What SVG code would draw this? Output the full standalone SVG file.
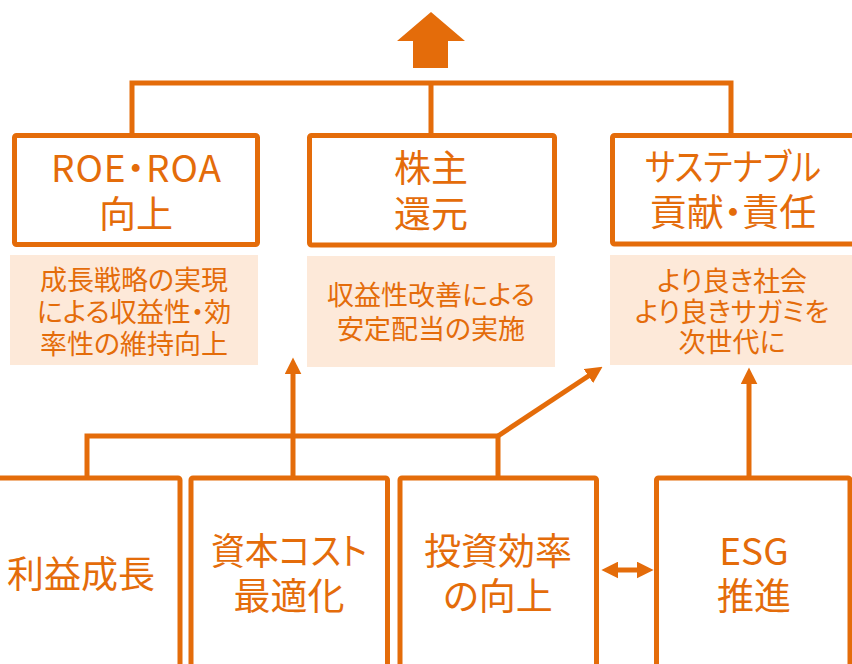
<svg xmlns="http://www.w3.org/2000/svg" width="852" height="664" viewBox="0 0 852 664">
<style>
.box{fill:#FFFFFF;stroke:#E46C0A;stroke-width:5}
.note{fill:#FDE9D9}
.conn{fill:none;stroke:#E46C0A;stroke-width:5}
text{font-family:"Noto Sans CJK JP","Noto Sans",sans-serif;fill:#E46C0A;text-anchor:middle;font-feature-settings:"palt" 1}
.t1{font-size:37px}
.t2{font-size:27px}
.t3{font-size:37px}
</style>
<defs>
<marker id="ah" markerUnits="userSpaceOnUse" markerWidth="17" markerHeight="17" viewBox="0 0 16 16" refX="6" refY="8" orient="auto-start-reverse">
<path d="M0,0 L16,8 L0,16 z" fill="#E46C0A"/>
</marker>
</defs>
<rect width="852" height="664" fill="#FFFFFF"/>
<g id="connectors">
<polygon points="431,12 465,41 448,41 448,68 413,68 413,41 397,41" fill="#E46C0A"/>
<path class="conn" d="M132,135 V83 H731 V135 M431,83 V135"/>
<path class="conn" d="M87,477 V436 H498 V477"/>
<path class="conn" d="M498,436 L593.7,372.5" marker-end="url(#ah)"/>
<path class="conn" d="M293,477 V368" marker-end="url(#ah)"/>
<path class="conn" d="M749,477 V378" marker-end="url(#ah)"/>
<path class="conn" d="M612,570 H643" marker-start="url(#ah)" marker-end="url(#ah)"/>
</g>
<g id="roe">
<rect class="box" x="14.5" y="135.5" width="243" height="109" rx="2"/>
<text class="t1" x="136" y="182" textLength="170" lengthAdjust="spacing">ROE・ROA</text>
<text class="t1" x="136" y="228">向上</text>
</g>
<g id="roe-note">
<rect class="note" x="10" y="255" width="248" height="110"/>
<text class="t2" x="134" y="290">成長戦略の実現</text>
<text class="t2" x="134" y="322">による収益性・効</text>
<text class="t2" x="134" y="354">率性の維持向上</text>
</g>
<g id="shareholder">
<rect class="box" x="309.5" y="135.5" width="245" height="109.5" rx="2"/>
<text class="t1" x="431" y="182">株主</text>
<text class="t1" x="431" y="228">還元</text>
</g>
<g id="shareholder-note">
<rect class="note" x="307" y="256" width="248" height="111"/>
<text class="t2" x="431" y="305">収益性改善による</text>
<text class="t2" x="431" y="339">安定配当の実施</text>
</g>
<g id="sustainable">
<rect class="box" x="612.5" y="135.5" width="250" height="108.5" rx="2"/>
<text class="t1" x="733" y="181" textLength="176" lengthAdjust="spacingAndGlyphs">サステナブル</text>
<text class="t1" x="733" y="226">貢献・責任</text>
</g>
<g id="sustainable-note">
<rect class="note" x="610" y="255" width="250" height="110"/>
<text class="t2" x="732" y="291">より良き社会</text>
<text class="t2" x="732" y="322">より良きサガミを</text>
<text class="t2" x="732" y="352">次世代に</text>
</g>
<g id="profit">
<rect class="box" x="-20" y="478" width="200" height="250" rx="2"/>
<text class="t3" x="81" y="588">利益成長</text>
</g>
<g id="capital">
<rect class="box" x="191" y="478" width="196.5" height="250" rx="2"/>
<text class="t3" x="289" y="565" textLength="156" lengthAdjust="spacingAndGlyphs">資本コスト</text>
<text class="t3" x="289" y="610">最適化</text>
</g>
<g id="investment">
<rect class="box" x="400" y="478" width="196.5" height="250" rx="2"/>
<text class="t3" x="498" y="565">投資効率</text>
<text class="t3" x="498" y="610">の向上</text>
</g>
<g id="esg">
<rect class="box" x="656.5" y="478" width="193.5" height="250" rx="2"/>
<text class="t3" x="754" y="565">ESG</text>
<text class="t3" x="754" y="610">推進</text>
</g>
</svg>
